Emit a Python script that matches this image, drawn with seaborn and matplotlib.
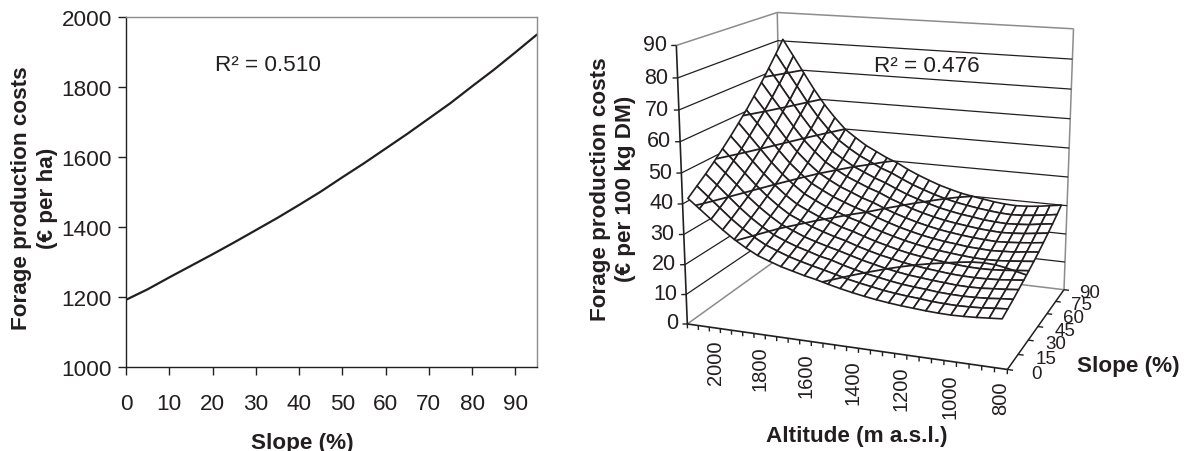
import matplotlib
matplotlib.use("Agg")
import matplotlib.pyplot as plt
import numpy as np
import pandas as pd
import seaborn as sns
from mpl_toolkits.mplot3d import proj3d

# left panel
slope_pct = [0, 5, 10, 15, 20, 25, 30, 35, 40, 45, 50, 55, 60, 65, 70, 75, 80, 85, 90, 95]
cost_ha = [1192, 1222, 1256, 1289, 1322, 1356, 1391, 1426, 1463, 1501, 1542, 1582, 1624, 1666,
           1710, 1754, 1802, 1849, 1899, 1950]
x_ticks = [0, 10, 20, 30, 40, 50, 60, 70, 80, 90]
y_ticks = [1000, 1200, 1400, 1600, 1800, 2000]

# right panel
altitudes = [800, 850, 900, 950, 1000, 1050, 1100, 1150, 1200, 1250, 1300, 1350, 1400, 1450,
             1500, 1550, 1600, 1650, 1700, 1750, 1800, 1850, 1900, 1950, 2000, 2050, 2100]
slopes = [0, 7.5, 15, 22.5, 30, 37.5, 45, 52.5, 60, 67.5, 75, 82.5, 90]
# one row per altitude, one column per slope
cost_dm = [
    [15.6, 16.5, 17.4, 18.4, 19.4, 20.5, 21.6, 22.8, 24.1, 25.5, 26.9, 28.4, 30.0],
    [15.3, 16.2, 17.1, 18.0, 19.0, 20.1, 21.2, 22.4, 23.6, 25.0, 26.4, 27.8, 29.4],
    [15.0, 15.8, 16.7, 17.7, 18.6, 19.7, 20.8, 21.9, 23.2, 24.5, 25.8, 27.3, 28.8],
    [14.8, 15.6, 16.5, 17.4, 18.4, 19.4, 20.5, 21.7, 22.9, 24.2, 25.5, 26.9, 28.4],
    [14.7, 15.5, 16.4, 17.3, 18.3, 19.3, 20.4, 21.5, 22.7, 24.0, 25.3, 26.7, 28.2],
    [14.8, 15.6, 16.5, 17.4, 18.4, 19.4, 20.5, 21.7, 22.9, 24.2, 25.5, 26.9, 28.4],
    [15.0, 15.8, 16.7, 17.7, 18.6, 19.7, 20.8, 21.9, 23.2, 24.5, 25.8, 27.3, 28.8],
    [15.3, 16.2, 17.1, 18.0, 19.0, 20.1, 21.2, 22.4, 23.6, 25.0, 26.4, 27.8, 29.4],
    [15.6, 16.5, 17.4, 18.4, 19.4, 20.5, 21.6, 22.8, 24.1, 25.5, 26.9, 28.4, 30.0],
    [16.0, 16.9, 17.8, 18.8, 19.9, 21.0, 22.2, 23.4, 24.7, 26.1, 27.6, 29.1, 30.7],
    [16.5, 17.4, 18.4, 19.4, 20.5, 21.6, 22.9, 24.1, 25.5, 26.9, 28.4, 30.0, 31.7],
    [17.1, 18.1, 19.1, 20.1, 21.3, 22.4, 23.7, 25.0, 26.4, 27.9, 29.5, 31.1, 32.8],
    [17.8, 18.8, 19.8, 21.0, 22.1, 23.4, 24.7, 26.0, 27.5, 29.0, 30.7, 32.4, 34.2],
    [18.6, 19.6, 20.7, 21.9, 23.1, 24.4, 25.8, 27.2, 28.7, 30.4, 32.0, 33.8, 35.7],
    [19.5, 20.6, 21.7, 23.0, 24.2, 25.6, 27.0, 28.5, 30.1, 31.8, 33.6, 35.5, 37.4],
    [20.5, 21.6, 22.9, 24.1, 25.5, 26.9, 28.4, 30.0, 31.7, 33.5, 35.3, 37.3, 39.4],
    [21.3, 22.5, 23.7, 25.1, 26.5, 27.9, 29.5, 31.2, 32.9, 34.8, 36.7, 38.7, 40.9],
    [22.3, 23.5, 24.9, 26.2, 27.7, 29.3, 30.9, 32.6, 34.5, 36.4, 38.4, 40.6, 42.8],
    [23.3, 24.6, 26.0, 27.4, 29.0, 30.6, 32.3, 34.1, 36.0, 38.0, 40.1, 42.4, 44.7],
    [24.6, 26.0, 27.4, 29.0, 30.6, 32.3, 34.1, 36.0, 38.0, 40.1, 42.4, 44.7, 47.2],
    [26.0, 27.5, 29.0, 30.6, 32.3, 34.1, 36.0, 38.0, 40.2, 42.4, 44.8, 47.3, 49.9],
    [28.0, 29.6, 31.2, 33.0, 34.8, 36.7, 38.8, 41.0, 43.3, 45.7, 48.2, 50.9, 53.8],
    [30.3, 32.0, 33.8, 35.7, 37.7, 39.8, 42.0, 44.3, 46.8, 49.4, 52.2, 55.1, 58.2],
    [33.0, 34.8, 36.8, 38.8, 41.0, 43.3, 45.7, 48.3, 51.0, 53.9, 56.9, 60.0, 63.4],
    [36.0, 38.0, 40.1, 42.4, 44.7, 47.2, 49.9, 52.7, 55.6, 58.8, 62.0, 65.5, 69.1],
    [39.0, 41.2, 43.5, 45.9, 48.5, 51.2, 54.1, 57.1, 60.3, 63.6, 67.2, 70.9, 74.9],
    [42.0, 44.4, 46.8, 49.4, 52.2, 55.1, 58.2, 61.4, 64.9, 68.5, 72.4, 76.4, 80.6],
]
alt_ticks = [775, 825, 875, 925, 975, 1025, 1075, 1125, 1175, 1225, 1275, 1325, 1375, 1425, 1475,
             1525, 1575, 1625, 1675, 1725, 1775, 1825, 1875, 1925, 1975, 2025, 2075, 2125]
alt_labels = [800, 1000, 1200, 1400, 1600, 1800, 2000]
slope_labels = [0, 15, 30, 45, 60, 75, 90]
z_ticks = [0, 10, 20, 30, 40, 50, 60, 70, 80, 90]
contour_levels = [20, 30, 40, 50, 60, 70]

INK = "#231f20"
GREY = "#8c8c8c"
FS = 16.2

sns.set_theme(style="ticks")
plt.rcParams["font.family"] = ["Liberation Sans", "DejaVu Sans"]
plt.rcParams["text.color"] = INK

W, H = 1184, 452
fig = plt.figure(figsize=(W / 100, H / 100), dpi=100, facecolor="white")

# left: cost per hectare against slope
ax = fig.add_axes([126 / W, (H - 368) / H, 411 / W, 350 / H])
df = pd.DataFrame({"Slope": slope_pct, "Cost": cost_ha})
sns.lineplot(data=df, x="Slope", y="Cost", color=INK, linewidth=1.6, ax=ax)
ax.set_xlim(0, 95)
ax.set_ylim(1000, 2000)
ax.set_xticks(x_ticks)
ax.set_yticks(y_ticks)
ax.tick_params(labelsize=FS, length=6, width=1, color=INK, labelcolor=INK)
ax.tick_params(axis="x", pad=13)
ax.tick_params(axis="y", pad=4)
for side in ["left", "bottom"]:
    ax.spines[side].set_color(INK)
    ax.spines[side].set_linewidth(1)
for side in ["top", "right"]:
    ax.spines[side].set_visible(True)
    ax.spines[side].set_color(GREY)
    ax.spines[side].set_linewidth(1)
ax.set_xlabel("Slope (%)", fontsize=FS, fontweight="bold", color=INK)
ax.xaxis.set_label_coords(0.43, -0.186)
ax.set_ylabel("Forage production costs\n(€ per ha)", fontsize=FS, fontweight="bold", color=INK,
              linespacing=1.3, va="center")
ax.yaxis.set_label_coords(-0.2226, 0.486)
ax.text(32.8, 1863, "R² = 0.510", fontsize=FS, color=INK, ha="center", va="center")

# right: cost per 100 kg DM surface, camera fitted to the box corners
size = 253.3
ax3 = fig.add_axes([752.03 / W, 145.83 / H, size / W, size / H], projection="3d")
ax3.computed_zorder = False
ax3.set_axis_off()
ax3.view_init(elev=15.05, azim=-69.7)
ax3.set_box_aspect((1.175, 0.816, 1), zoom=1.865)

a_lo, a_hi = alt_ticks[0], alt_ticks[-1]
s_lo, s_hi = slopes[0], slopes[-1]
z_lo, z_hi = z_ticks[0], z_ticks[-1]
ax3.set_xlim(a_hi, a_lo)
ax3.set_ylim(s_lo, s_hi)
ax3.set_zlim(z_lo, z_hi)


def line3(xs, ys, zs, color=INK, lw=0.9, z=1):
    ax3.plot3D(xs, ys, zs, color=color, linewidth=lw, zorder=z, solid_capstyle="butt")


def label3(x, y, z, s, fontsize=FS, **kw):
    xp, yp, _ = proj3d.proj_transform(x, y, z, ax3.get_proj())
    ax3.text2D(xp, yp, s, transform=ax3.transData, fontsize=fontsize, color=INK, **kw)


# walls and box outline
line3([a_hi, a_hi], [s_hi, s_hi], [z_lo, z_hi], GREY, 1.1)
line3([a_lo, a_lo], [s_hi, s_hi], [z_lo, z_hi], GREY, 1.1)
line3([a_hi, a_hi], [s_lo, s_hi], [z_hi, z_hi], GREY, 1.1)
line3([a_hi, a_lo], [s_hi, s_hi], [z_hi, z_hi], GREY, 1.1)
line3([a_hi, a_hi], [s_lo, s_hi], [z_lo, z_lo], GREY, 1.1)
line3([a_hi, a_lo], [s_hi, s_hi], [z_lo, z_lo], GREY, 1.1)
line3([a_lo, a_lo], [s_lo, s_hi], [z_lo, z_lo], INK, 1.1, 4)
for zt in z_ticks[1:-1]:
    line3([a_hi, a_hi, a_lo], [s_lo, s_hi, s_hi], [zt, zt, zt], INK, 0.9)

X, Y = np.meshgrid(altitudes, slopes, indexing="ij")
Z = np.array(cost_dm)
ax3.plot_surface(X, Y, Z, rstride=1, cstride=1, color="white", edgecolor=INK, linewidth=1.2,
                 shade=False, antialiased=True, zorder=2)
ax3.contour(X, Y, Z, levels=contour_levels, colors=INK, linewidths=1.3, zorder=3)

# axes drawn by hand so ticks fall like the original
line3([a_hi, a_hi], [s_lo, s_lo], [z_lo, z_hi], INK, 1.2, 4)
line3([a_hi, a_lo], [s_lo, s_lo], [z_lo, z_lo], INK, 1.2, 4)
for zt in z_ticks:
    line3([a_hi, a_hi + 18], [s_lo, s_lo - 0.74], [zt, zt], INK, 1.0, 4)
    label3(a_hi + 42, s_lo, zt, str(zt), fontsize=15.5, ha="right", va="center")
for alt in alt_ticks:
    line3([alt, alt], [s_lo, s_lo], [z_lo, z_lo - 1.5], INK, 1.0, 4)
for alt in alt_labels:
    label3(alt, s_lo, z_lo - 3.8, str(alt), fontsize=14.5, rotation=90, ha="center", va="top")
for sl in slope_labels:
    line3([a_lo, a_lo - 22], [sl, sl], [z_lo, z_lo], INK, 1.0, 4)
    label3(a_lo - 112, sl, z_lo, str(sl), fontsize=13.5, ha="center", va="center")

for child in ax3.get_children():
    child.set_clip_on(False)

fig.text(613 / W, 1 - 189 / H, "Forage production costs\n(€ per 100 kg DM)", fontsize=FS,
         fontweight="bold", color=INK, rotation=90, ha="center", va="center", linespacing=1.3,
         multialignment="center")
fig.text(857 / W, 1 - 437 / H, "Altitude (m a.s.l.)", fontsize=FS, fontweight="bold", color=INK,
         ha="center", va="center")
fig.text(1128 / W, 1 - 367 / H, "Slope (%)", fontsize=FS, fontweight="bold", color=INK,
         ha="center", va="center")
fig.text(927 / W, 1 - 66 / H, "R² = 0.476", fontsize=FS, color=INK, ha="center", va="center")

fig.savefig("out.png", dpi=100, facecolor="white")
